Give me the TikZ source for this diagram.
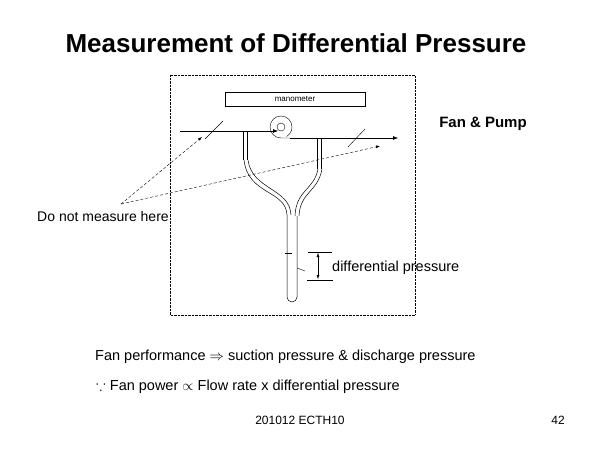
\documentclass[tikz,border=0pt]{standalone}
\usepackage{amsmath,amssymb}
\usepackage{fontspec}
\setmainfont{Liberation Sans}
\usetikzlibrary{arrows.meta}

\begin{document}
\begin{tikzpicture}[x=1pt,y=-1pt,
    tube/.style={line width=0.5pt},
    hint/.style={densely dashed},
    lbl/.style={font=\fontsize{14.5}{17}\selectfont}]
    \useasboundingbox (0,0) rectangle (600,450);

    \node[font=\fontsize{26}{30}\selectfont\bfseries] (title) at (296,43) {Measurement of Differential Pressure};

    % frame and manometer label
    \draw[densely dotted] (170,75) rectangle (415,315);
    \node[draw,minimum width=140pt,minimum height=14pt,inner sep=0pt,font=\fontsize{8}{9}\selectfont] (mano) at (295,99) {manometer};

    % pipes and fan
    \coordinate (inA) at (180,131);
    \coordinate (fan) at (281,127);
    \coordinate (outA) at (290,138);
    \coordinate (outB) at (398,138);
    \draw[-{Latex[length=5pt]}] (inA) -- (278,131);
    \draw (outA) -- (281,138) arc[start angle=90,end angle=420,radius=11];
    \draw (fan) circle (4);
    \draw[-{Latex[length=5pt]}] (outA) -- (outB);
    \node[font=\fontsize{15}{17}\selectfont\bfseries] (fp) at (483,124) {Fan \& Pump};

    % slashes
    \draw (205,139) -- (223,121);
    \draw (348,147) -- (365,129);

    % pressure taps
    \draw[tube] (243,131) -- (243,160) (247,131) -- (247,160);
    \draw[tube] (317,138) -- (317,169) (321,138) -- (321,169);

    % U tube
    \draw[tube] (244,160) .. controls (248,195) and (286,190) .. (287,215) -- (287,297)
        arc[start angle=180,end angle=0,radius=5] -- (297,216);
    \draw[tube] (248,160) .. controls (252,190) and (290,188) .. (291,215);
    \draw[tube] (318,169) .. controls (314,190) and (296,190) .. (295,216);
    \draw[tube] (322,169) .. controls (318,192) and (300,192) .. (299,216);

    % level marks and dimension
    \draw (285,253) -- (292,253);
    \draw (297,268) -- (305,271);
    \draw (308,252) -- (332,252);
    \draw (307,280) -- (333,280);
    \draw[{Latex[length=4pt]}-{Latex[length=4pt]}] (318,253) -- (318,279);
    \node[lbl,anchor=west,inner sep=0pt] (dp) at (332,268) {differential pressure};

    % warning
    \node[font=\fontsize{14}{16}\selectfont] (dnm) at (103,216) {Do not measure here};
    \coordinate (src) at (121,204);
    \draw[hint,-{Latex[length=4pt]}] (src) -- (202,137);
    \draw[hint,-{Latex[length=4pt]}] (src) -- (380,146);

    \node[lbl,anchor=west,inner sep=0pt] (perf) at (95,357) {Fan performance $\Rightarrow$ suction pressure \& discharge pressure};
    \node[lbl,anchor=west,inner sep=0pt] (pow) at (96,387) {$\because$ Fan power $\propto$ Flow rate x differential pressure};
    \node[font=\fontsize{12}{14}\selectfont] (foot) at (300,420) {201012 ECTH10};
    \node[font=\fontsize{12}{14}\selectfont] (page) at (558,420) {42};
\end{tikzpicture}
\end{document}
